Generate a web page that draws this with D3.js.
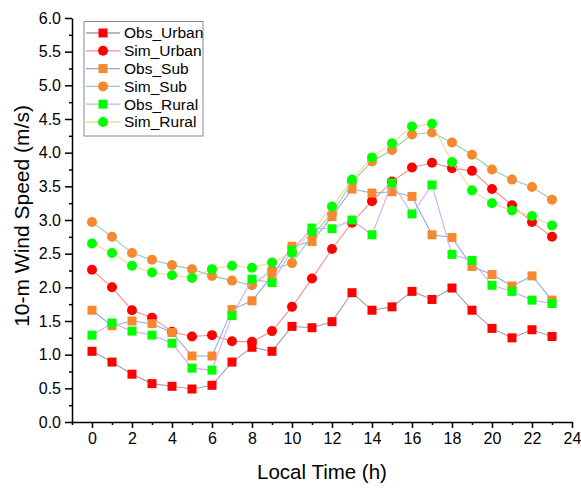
<!DOCTYPE html>
<html>
<head>
<meta charset="utf-8">
<script src="https://cdn.jsdelivr.net/npm/d3@7"></script>
<style>
  html, body { margin: 0; padding: 0; background: #fff; }
  svg { display: block; font-family: "Liberation Sans", Arial, sans-serif; }
</style>
</head>
<body>
<svg id="chart" width="581" height="489"></svg>
<script>
const hours = d3.range(0, 24);
const obsUrban = [1.05,0.89,0.71,0.57,0.53,0.49,0.545,0.89,1.11,1.05,1.42,1.40,1.49,1.92,1.66,1.71,1.94,1.82,1.99,1.66,1.39,1.25,1.37,1.27];
const simUrban = [2.26,2.00,1.66,1.55,1.34,1.27,1.29,1.20,1.19,1.35,1.71,2.13,2.57,2.96,3.28,3.57,3.78,3.85,3.77,3.73,3.46,3.22,2.97,2.75];
const obsSub   = [1.66,1.43,1.50,1.46,1.33,0.98,0.98,1.67,1.80,2.17,2.61,2.68,3.05,3.46,3.40,3.42,3.35,2.78,2.74,2.31,2.19,2.02,2.17,1.81];
const simSub   = [2.97,2.75,2.51,2.41,2.33,2.27,2.17,2.10,2.03,2.26,2.36,2.76,3.10,3.56,3.87,4.04,4.27,4.30,4.15,3.97,3.75,3.60,3.49,3.30];
const obsRural = [1.29,1.47,1.35,1.29,1.17,0.80,0.77,1.58,2.12,2.07,2.55,2.88,2.87,3.00,2.78,3.55,3.09,3.52,2.49,2.40,2.03,1.94,1.81,1.76];
const simRural = [2.65,2.51,2.32,2.22,2.18,2.14,2.27,2.32,2.29,2.37,2.51,2.83,3.20,3.60,3.93,4.14,4.39,4.43,3.86,3.44,3.25,3.14,3.06,2.92];

const seriesNames = ["Obs_Urban","Sim_Urban","Obs_Sub","Sim_Sub","Obs_Rural","Sim_Rural"];
const seriesValues = [obsUrban, simUrban, obsSub, simSub, obsRural, simRural];
const xTicks = d3.range(0, 25, 2);
const yTicks = d3.range(0, 6.01, 0.5);

const styles = [
  {line:"#a0a0a0", fill:"#ff0000", shape:"square"},
  {line:"#ff8c8c", fill:"#ff0000", shape:"circle"},
  {line:"#86aee6", fill:"#f7882f", shape:"square"},
  {line:"#8fd3a6", fill:"#f7882f", shape:"circle"},
  {line:"#d6aaf2", fill:"#00ff00", shape:"square"},
  {line:"#f0d89a", fill:"#00ff00", shape:"circle"}
];

const svg = d3.select("#chart");
const pLeft = 72, pRight = 572, pTop = 18, pBottom = 422;
const x = d3.scaleLinear().domain([-1, 24]).range([pLeft, pRight]);
const y = d3.scaleLinear().domain([0, 6]).range([pBottom, pTop]);

// axes
svg.append("g").attr("transform", `translate(0,${pBottom})`)
  .call(d3.axisBottom(x).tickValues(xTicks).tickSize(6).tickSizeOuter(0).tickPadding(5).tickFormat(d3.format("d")));
svg.append("g").attr("transform", `translate(0,${pBottom})`)
  .call(d3.axisBottom(x).tickValues(d3.range(-1, 24, 2)).tickSize(3).tickSizeOuter(0).tickFormat(""))
  .select(".domain").remove();
svg.append("g").attr("transform", `translate(${pLeft},0)`)
  .call(d3.axisLeft(y).tickValues(yTicks).tickSize(7).tickSizeOuter(0).tickPadding(4).tickFormat(d3.format(".1f")));
svg.append("g").attr("transform", `translate(${pLeft},0)`)
  .call(d3.axisLeft(y).tickValues(d3.range(0.25, 6, 0.5)).tickSize(3).tickSizeOuter(0).tickFormat(""))
  .select(".domain").remove();

svg.selectAll(".domain").attr("stroke", "#000").attr("stroke-width", 1.5);
svg.selectAll(".tick line").attr("stroke", "#000").attr("stroke-width", 1.5);
svg.selectAll(".tick text").attr("font-size", 16).attr("fill", "#000")
  .attr("font-family", "'Liberation Sans', Arial, sans-serif");

// titles
svg.append("text").attr("x", (x(-1)+x(24))/2).attr("y", 479)
  .attr("text-anchor", "middle").attr("font-size", 20.5).text("Local Time (h)");
svg.append("text").attr("transform", `translate(29,${(pTop+pBottom)/2 - 4}) rotate(-90)`)
  .attr("text-anchor", "middle").attr("font-size", 21).text("10-m Wind Speed (m/s)");

function drawMarker(g, shape, cx, cy, fill) {
  if (shape === "square") {
    g.append("rect").attr("x", cx-4.5).attr("y", cy-4.5).attr("width", 9).attr("height", 9)
      .attr("fill", fill);
  } else {
    g.append("circle").attr("cx", cx).attr("cy", cy).attr("r", 5).attr("fill", fill);
  }
}

const line = d3.line().x((d,i) => x(hours[i])).y(d => y(d));
seriesValues.forEach((vals, k) => {
  const g = svg.append("g");
  g.append("path").datum(vals).attr("d", line).attr("fill", "none")
    .attr("stroke", styles[k].line).attr("stroke-width", 1.1);
  vals.forEach((v, i) => drawMarker(g, styles[k].shape, x(hours[i]), y(v), styles[k].fill));
});

// legend
const lg = svg.append("g");
lg.append("rect").attr("x", 84).attr("y", 21.5).attr("width", 119).attr("height", 114.5)
  .attr("fill", "#fff").attr("stroke", "#8a8a8a").attr("stroke-width", 1);
seriesNames.forEach((name, k) => {
  const yy = 33 + k * 17.8;
  lg.append("line").attr("x1", 86).attr("x2", 120).attr("y1", yy).attr("y2", yy)
    .attr("stroke", styles[k].line).attr("stroke-width", 1.3);
  drawMarker(lg, styles[k].shape, 103, yy, styles[k].fill);
  lg.append("text").attr("x", 124).attr("y", yy + 5.4).attr("font-size", 15.5).text(name);
});
</script>
</body>
</html>
